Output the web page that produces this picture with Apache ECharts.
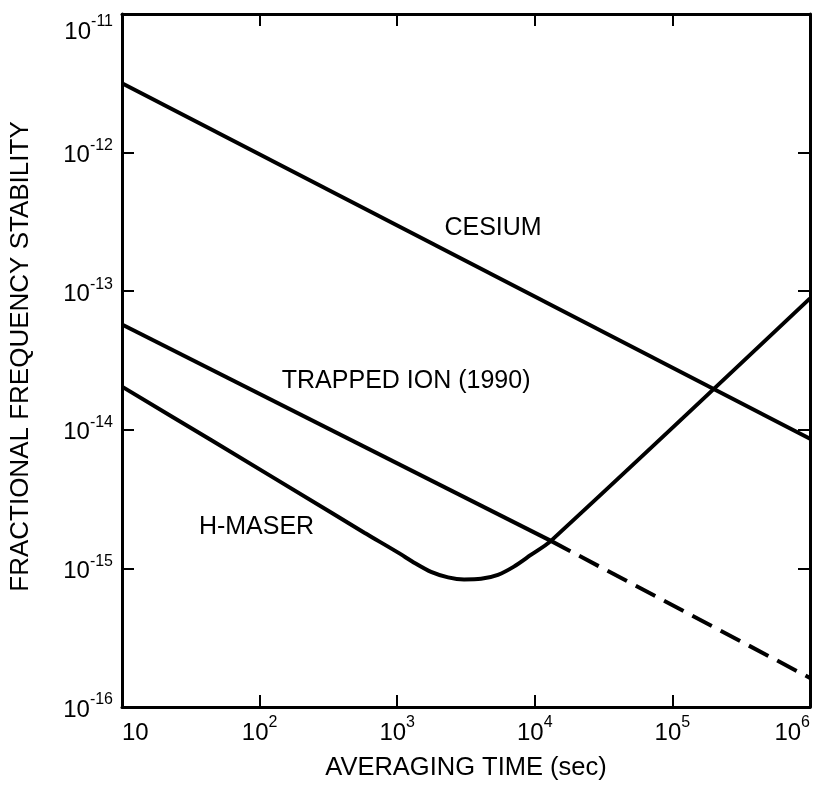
<!DOCTYPE html>
<html>
<head>
<meta charset="utf-8">
<title>stability</title>
<script src="https://cdn.jsdelivr.net/npm/echarts@6/dist/echarts.min.js"></script>
<style>
  html, body { margin: 0; padding: 0; background: #fff; }
  #myChart { width: 822px; height: 787px; }
</style>
</head>
<body>
<div id="myChart"></div>
<script>
// 数据 (从图上读出来的)
const cesiumTau = [10, 1e6];
const cesiumSigma = [3.17e-12, 8.63e-15];

const ionTau = [10, 1.31e4];
const ionSigma = [5.75e-14, 1.58e-15];
const ionDashTau = [1.31e4, 1e6];
const ionDashSigma = [1.58e-15, 1.62e-16];

const maserTau = [10, 45, 333, 577, 1016, 1327, 1762, 2344, 3060, 4065, 5395, 7050, 9355, 1.31e4, 1e6];
const maserSigma = [2.05e-14, 8.36e-15, 2.52e-15, 1.81e-15, 1.30e-15, 1.10e-15, 9.44e-16, 8.62e-16,
  8.32e-16, 8.41e-16, 8.99e-16, 1.03e-15, 1.25e-15, 1.58e-15, 8.87e-14];

// 曲线标签
const labelNames = ['CESIUM', 'TRAPPED ION (1990)', 'H-MASER'];
const labelTau = [4970, 1161, 95];
const labelSigma = [2.84e-13, 2.23e-14, 2.0e-15];

const xTicks = [10, 1e2, 1e3, 1e4, 1e5, 1e6];
const yTicks = [1e-16, 1e-15, 1e-14, 1e-13, 1e-12, 1e-11];

const font = 'Liberation Sans, Arial, Helvetica, sans-serif';

function pairs(xs, ys) {
  return xs.map((x, i) => [x, ys[i]]);
}

function powLabel(v) {
  let e = Math.round(Math.log10(v));
  if (e === 1) return '{b|10}';
  return '{b|10}{s|' + (e < 0 ? '-' + (-e) : e) + '}';
}

const richStyle = {
  b: { fontSize: 24, fontFamily: font, color: '#000', lineHeight: 30, verticalAlign: 'bottom' },
  s: { fontSize: 16, fontFamily: font, color: '#000', lineHeight: 17, verticalAlign: 'top' }
};

const axisLine = { show: true, lineStyle: { color: '#000', width: 3 } };
const axisTick = { show: true, inside: true, length: 12, lineStyle: { color: '#000', width: 2 } };
const titleStyle = { fontSize: 25.5, fontFamily: font, color: '#000' };

let myChart = echarts.init(document.getElementById('myChart'));

const markLabels = labelNames.map((n, i) => ({
  coord: [labelTau[i], labelSigma[i]],
  value: n
}));

myChart.setOption({
  animation: false,
  backgroundColor: '#fff',
  grid: { left: 120, right: 12, top: 14, bottom: 80 },
  xAxis: [{
    type: 'log',
    logBase: 10,
    min: xTicks[0],
    max: xTicks[xTicks.length - 1],
    name: 'AVERAGING TIME (sec)',
    nameLocation: 'middle',
    nameGap: 48,
    nameTextStyle: titleStyle,
    axisLine: axisLine,
    axisTick: axisTick,
    minorTick: { show: false },
    splitLine: { show: false },
    axisLabel: {
      margin: 8,
      formatter: powLabel,
      rich: richStyle,
      alignMinLabel: 'left',
      alignMaxLabel: 'right'
    }
  }, {
    type: 'log',
    logBase: 10,
    position: 'top',
    min: xTicks[0],
    max: xTicks[xTicks.length - 1],
    axisLine: axisLine,
    axisTick: axisTick,
    splitLine: { show: false },
    axisLabel: { show: false }
  }],
  yAxis: [{
    type: 'log',
    logBase: 10,
    min: yTicks[0],
    max: yTicks[yTicks.length - 1],
    name: 'FRACTIONAL FREQUENCY STABILITY',
    nameLocation: 'middle',
    nameGap: 88,
    nameTextStyle: { fontSize: 26, fontFamily: font, color: '#000', padding: [0, 0, 0, 8] },
    axisLine: axisLine,
    axisTick: axisTick,
    splitLine: { show: false },
    axisLabel: {
      margin: 9,
      formatter: powLabel,
      rich: richStyle,
      verticalAlignMaxLabel: 'top'
    }
  }, {
    type: 'log',
    logBase: 10,
    position: 'right',
    min: yTicks[0],
    max: yTicks[yTicks.length - 1],
    axisLine: axisLine,
    axisTick: axisTick,
    splitLine: { show: false },
    axisLabel: { show: false }
  }],
  series: [
    {
      name: 'cesium',
      type: 'line',
      data: pairs(cesiumTau, cesiumSigma),
      showSymbol: false,
      lineStyle: { color: '#000', width: 4 },
      markPoint: {
        symbol: 'circle',
        symbolSize: 0,
        label: {
          show: true,
          position: 'inside',
          formatter: p => p.value,
          fontSize: 25,
          fontFamily: font,
          color: '#000'
        },
        data: markLabels
      }
    },
    {
      name: 'ion',
      type: 'line',
      data: pairs(ionTau, ionSigma),
      showSymbol: false,
      lineStyle: { color: '#000', width: 4 }
    },
    {
      name: 'ion-dash',
      type: 'line',
      data: pairs(ionDashTau, ionDashSigma),
      showSymbol: false,
      lineStyle: { color: '#000', width: 4, type: [22, 10] }
    },
    {
      name: 'maser',
      type: 'line',
      data: pairs(maserTau, maserSigma),
      showSymbol: false,
      smooth: 0.3,
      lineStyle: { color: '#000', width: 4 }
    }
  ]
});
</script>
</body>
</html>
